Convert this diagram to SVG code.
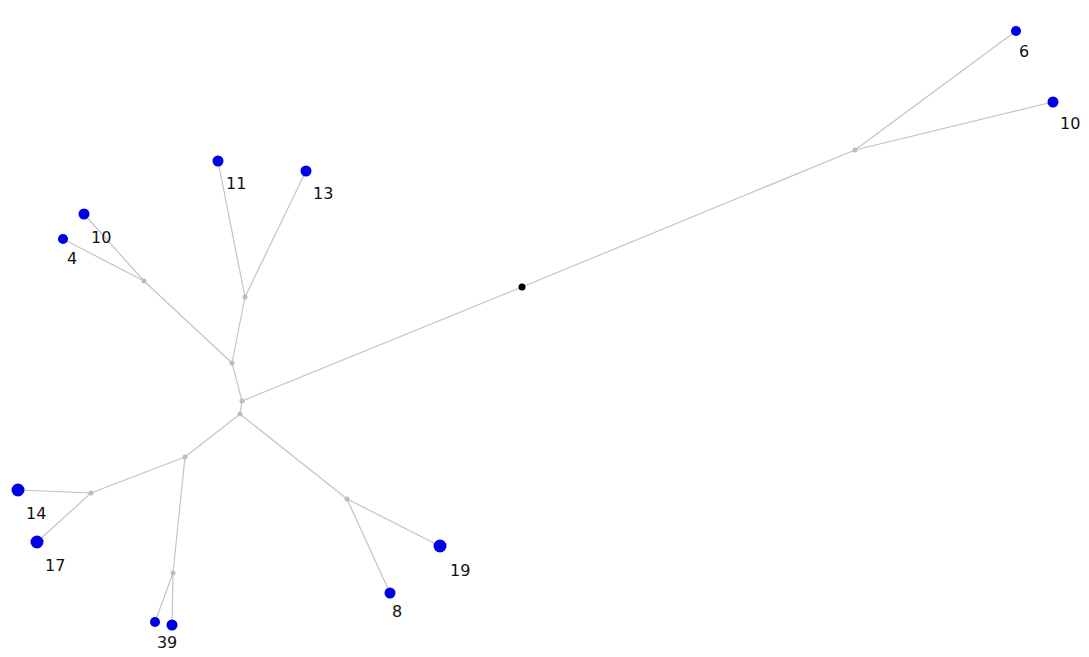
<svg xmlns="http://www.w3.org/2000/svg" width="1089" height="657" viewBox="0 0 1089 657">
<style>
.e{stroke:#c4c4c4;stroke-width:1.2;fill:none}
.leaf{fill:#0000e6}
.in{fill:#bdbdbd}
.root{fill:#000}
text{font-family:"DejaVu Sans",Verdana,sans-serif;font-size:16px;fill:#111}
</style>
<rect width="1089" height="657" fill="#fff"/>
<g id="edges">
<line class="e" x1="242" y1="401" x2="522" y2="287"/>
<line class="e" x1="522" y1="287" x2="855" y2="150"/>
<line class="e" x1="855" y1="150" x2="1016" y2="31"/>
<line class="e" x1="855" y1="150" x2="1053" y2="102"/>
<line class="e" x1="232" y1="363" x2="242" y2="401"/>
<line class="e" x1="242" y1="401" x2="240" y2="414"/>
<line class="e" x1="232" y1="363" x2="144" y2="281"/>
<line class="e" x1="232" y1="363" x2="245" y2="297"/>
<line class="e" x1="245" y1="297" x2="218" y2="161"/>
<line class="e" x1="245" y1="297" x2="306" y2="171"/>
<line class="e" x1="144" y1="281" x2="63" y2="239"/>
<line class="e" x1="144" y1="281" x2="84" y2="214"/>
<line class="e" x1="240" y1="414" x2="185" y2="457"/>
<line class="e" x1="240" y1="414" x2="347" y2="499"/>
<line class="e" x1="185" y1="457" x2="91" y2="493"/>
<line class="e" x1="185" y1="457" x2="173" y2="573"/>
<line class="e" x1="91" y1="493" x2="18" y2="490"/>
<line class="e" x1="91" y1="493" x2="37" y2="542"/>
<line class="e" x1="173" y1="573" x2="155" y2="622"/>
<line class="e" x1="173" y1="573" x2="172" y2="625"/>
<line class="e" x1="347" y1="499" x2="440" y2="546"/>
<line class="e" x1="347" y1="499" x2="390" y2="593"/>
</g>
<g id="root"><circle class="root" cx="522" cy="287" r="3.5"/></g>
<g id="i1"><circle class="in" cx="855" cy="150" r="2.5"/></g>
<g id="i2"><circle class="in" cx="242" cy="401" r="2.5"/></g>
<g id="i3"><circle class="in" cx="240" cy="414" r="2.5"/></g>
<g id="i4"><circle class="in" cx="232" cy="363" r="2.5"/></g>
<g id="i5"><circle class="in" cx="245" cy="297" r="2.5"/></g>
<g id="i6"><circle class="in" cx="144" cy="281" r="2.5"/></g>
<g id="i7"><circle class="in" cx="185" cy="457" r="2.5"/></g>
<g id="i8"><circle class="in" cx="91" cy="493" r="2.5"/></g>
<g id="i9"><circle class="in" cx="173" cy="573" r="2.5"/></g>
<g id="i10"><circle class="in" cx="347" cy="499" r="2.5"/></g>
<g id="n6"><circle class="leaf" cx="1016" cy="31" r="5"/><text x="1019" y="57">6</text></g>
<g id="n10a"><circle class="leaf" cx="1053" cy="102" r="5.5"/><text x="1060" y="129">10</text></g>
<g id="n11"><circle class="leaf" cx="218" cy="161" r="5.5"/><text x="226" y="189">11</text></g>
<g id="n13"><circle class="leaf" cx="306" cy="171" r="5.5"/><text x="313" y="199">13</text></g>
<g id="n10b"><circle class="leaf" cx="84" cy="214" r="5.5"/><text x="91" y="243">10</text></g>
<g id="n4"><circle class="leaf" cx="63" cy="239" r="5"/><text x="67" y="264">4</text></g>
<g id="n14"><circle class="leaf" cx="18" cy="490" r="6.5"/><text x="26" y="519">14</text></g>
<g id="n17"><circle class="leaf" cx="37" cy="542" r="6.5"/><text x="45" y="571">17</text></g>
<g id="n3"><circle class="leaf" cx="155" cy="622" r="5"/><text x="157" y="648">3</text></g>
<g id="n9"><circle class="leaf" cx="172" cy="625" r="5.5"/><text x="167" y="648">9</text></g>
<g id="n19"><circle class="leaf" cx="440" cy="546" r="6.5"/><text x="450" y="576">19</text></g>
<g id="n8"><circle class="leaf" cx="390" cy="593" r="5.5"/><text x="392" y="617">8</text></g>
</svg>
